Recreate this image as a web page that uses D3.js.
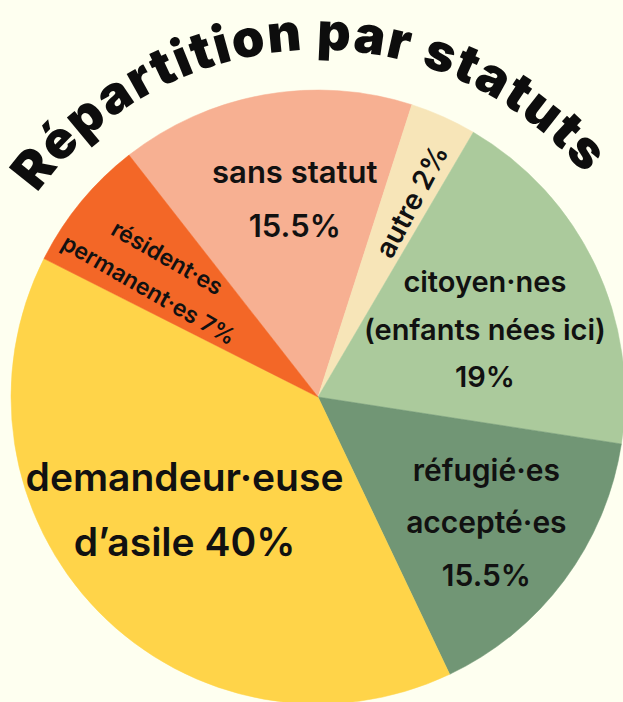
<!DOCTYPE html>
<html>
<head>
<meta charset="utf-8">
<script src="https://cdn.jsdelivr.net/npm/d3@7"></script>
<style>
  html, body { margin: 0; padding: 0; background: #fefff0; }
  svg { display: block; }
  .title { font-family: Inter, "DejaVu Sans", sans-serif; font-weight: 900; fill: #0d0d0d; }
  .slice-label { font-family: Inter, "DejaVu Sans", sans-serif; font-weight: 600; fill: #111; }
</style>
</head>
<body>
<div id="chart"></div>
<script>
const categories = ["sans statut", "autre", "citoyen·nes", "réfugié·es accepté·es", "demandeur·euse d’asile", "résident·es permanent·es"];
const shares = [15.5, 3.5, 19, 15.5, 39.5, 7];
const labelLines = [
    ["sans statut", "15.5%"],
    ["autre 2%"],
    ["citoyen·nes", "(enfants nées ici)", "19%"],
    ["réfugié·es", "accepté·es", "15.5%"],
    ["demandeur·euse", "d’asile 40%"],
    ["résident·es", "permanent·es 7%"]
];
const colors = ["#f7b092", "#f7e5b8", "#abca9c", "#719675", "#ffd449", "#f36727"];
const titleText = "Répartition par statuts";

const config = {
    width: 623,
    height: 702,
    cx: 318,
    cy: 397,
    radius: 307,
    startDeg: -38,
    titleRadius: 347,
    titleFrom: -54,
    titleTo: 50,
    titleSize: 52,
    // label placement per slice: angle shift from slice middle, distance, rotation, size, line height
    labelShift: [3.4, 1.5, 3.4, 0, 4, -1.8],
    labelRadius: [199, 217, 180, 210, 175, 202],
    labelRotate: [0, -62, 0, 0, 0, 30],
    labelSize: [31, 28, 29, 30, 39, 23],
    labelLine: [54, 0, 47.5, 52.5, 65, 37]
};

const rad = deg => deg * Math.PI / 180;

const svg = d3.select('#chart').append('svg')
    .attr('width', config.width)
    .attr('height', config.height);

svg.append('rect')
    .attr('width', config.width)
    .attr('height', config.height)
    .attr('fill', '#fefff0');

const data = categories.map((c, i) => ({category: c, value: shares[i], lines: labelLines[i], color: colors[i], i: i}));

const pie = d3.pie()
    .sort(null)
    .value(d => d.value)
    .startAngle(rad(config.startDeg))
    .endAngle(rad(config.startDeg) + 2 * Math.PI);

const arc = d3.arc()
    .innerRadius(0)
    .outerRadius(config.radius);

const g = svg.append('g')
    .attr('transform', `translate(${config.cx},${config.cy})`);

const arcs = pie(data);

g.selectAll('.slice')
    .data(arcs)
    .join('path')
    .attr('class', 'slice')
    .attr('d', arc)
    .attr('fill', d => d.data.color)
    .attr('stroke', d => d.data.color)
    .attr('stroke-width', 0.5);

// labels
const labels = g.selectAll('.slice-label')
    .data(arcs)
    .join('text')
    .attr('class', 'slice-label')
    .attr('text-anchor', 'middle')
    .attr('font-size', d => config.labelSize[d.data.i])
    .attr('transform', d => {
        const k = d.data.i;
        const a = (d.startAngle + d.endAngle) / 2 + rad(config.labelShift[k]);
        const r = config.labelRadius[k];
        const x = r * Math.sin(a);
        const y = -r * Math.cos(a);
        return `translate(${x},${y}) rotate(${config.labelRotate[k]})`;
    });

labels.selectAll('tspan')
    .data(d => d.data.lines.map((t, j) => ({t: t, j: j, n: d.data.lines.length, lh: config.labelLine[d.data.i]})))
    .join('tspan')
    .attr('x', 0)
    .attr('y', d => (d.j - (d.n - 1) / 2) * d.lh)
    .attr('dy', '0.35em')
    .text(d => d.t);

// curved title
const titlePath = d3.path();
titlePath.arc(0, 0, config.titleRadius, rad(config.titleFrom) - Math.PI / 2, rad(config.titleTo) - Math.PI / 2);

g.append('path')
    .attr('id', 'title-arc')
    .attr('d', titlePath.toString())
    .attr('fill', 'none');

const arcLength = config.titleRadius * rad(config.titleTo - config.titleFrom);

g.append('text')
    .attr('class', 'title')
    .attr('font-size', config.titleSize)
    .append('textPath')
    .attr('href', '#title-arc')
    .attr('startOffset', 0)
    .attr('textLength', arcLength)
    .attr('lengthAdjust', 'spacing')
    .text(titleText);
</script>
</body>
</html>
